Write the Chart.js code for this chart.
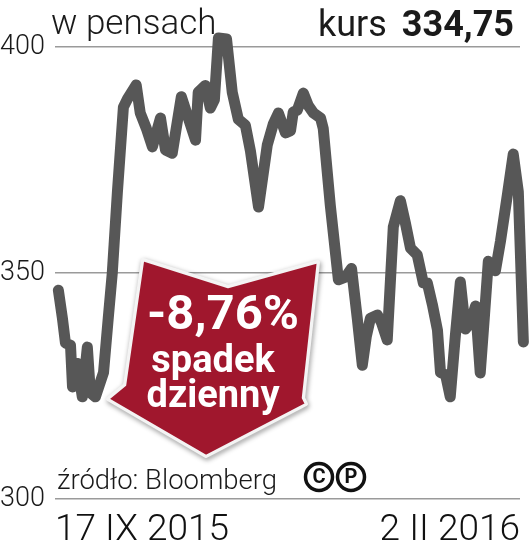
<!DOCTYPE html>
<html>
<head>
<meta charset="utf-8">
<script src="https://cdn.jsdelivr.net/npm/chart.js@4/dist/chart.umd.min.js"></script>
<style>
  html, body { margin: 0; padding: 0; background: #fff; }
  canvas { display: block; }
</style>
</head>
<body>
<canvas id="c" width="529" height="548"></canvas>
<script>
// Calendar-day offsets from 17 IX 2015 (day 0) to 2 II 2016 (day 138)
const days = [
  0, 1.2, 2.1, 3.6, 4.2, 5.6, 7.1, 8.6, 9.5, 11.0,
  13.4, 14.8, 16.0, 17.5, 19.3, 20.5, 23.1, 24.3, 26.1, 27.9,
  30.3, 31.8, 33.8, 36.5, 40.7, 41.5, 43.6, 45.1, 46.3, 47.5,
  49.9, 51.6, 53.4, 55.5, 57.0, 59.4, 62.0, 63.8, 65.3, 67.4,
  68.9, 69.7, 70.9, 72.7, 74.2, 75.7, 77.8, 78.6, 80.7, 83.1,
  85.2, 87.0, 88.7, 90.2, 91.4, 92.6, 94.7, 95.9, 97.6, 99.4,
  101.5, 103.0, 104.5, 106.5, 108.3, 109.5, 111.0, 112.5, 113.4, 114.9,
  116.3, 117.8, 119.3, 120.8, 122.3, 123.8, 125.2, 126.4, 127.6, 129.7,
  131.2, 133.2, 135.0, 136.5, 138.0
];
// Price in pence
const prices = [
  346.2, 340, 334.5, 334, 324.8, 330, 322.6, 333.6, 323.5, 322.6,
  328, 340, 350, 367.7, 386.7, 388.5, 391.6, 385.4, 382, 377.9,
  384.3, 377.2, 376.5, 389, 379.4, 390, 391.5, 386.5, 388.3, 402,
  401.8, 390, 384, 382.7, 377, 364.6, 378.3, 383, 385.4, 381,
  381.5, 385.6, 386, 389.8, 387, 385.4, 384.3, 382, 365, 348.5,
  349.1, 351, 340, 329.6, 336, 340, 340.7, 339, 335.2, 360.2,
  366, 361, 355.5, 354, 347.8, 347.8, 343, 337.4, 328, 327.5,
  322.6, 336, 348, 337.6, 339, 342.7, 327.9, 340, 352.6, 350.5,
  357, 367, 376.3, 368, 334.75
];
const yTicks = [300, 350, 400];
const xTickLabels = ['17 IX 2015', '2 II 2016'];
const unitLabel = 'w pensach';
const priceLabel = 'kurs';
const lastPrice = '334,75';
const sourceLabel = 'źródło: Bloomberg';
const calloutLines = ['-8,76%', 'spadek', 'dzienny'];

const LIGHT = '300 ';
const FAM = 'Roboto, "Liberation Sans", sans-serif';

const decor = {
  id: 'decor',
  beforeDatasetsDraw(chart) {
    const ctx = chart.ctx;
    ctx.save();
    ctx.fillStyle = '#1a1a1a';
    ctx.textBaseline = 'alphabetic';
    ctx.textAlign = 'left';
    ctx.font = LIGHT + '35px ' + FAM;
    ctx.fillText(unitLabel, 51, 34);
    // source
    ctx.font = LIGHT + '27.5px ' + FAM;
    ctx.fillText(sourceLabel, 57, 489);
    // (C)(P) icons
    const icons = ['C', 'P'];
    icons.forEach((t, i) => {
      const cx = 319 + i * 32, cy = 477, r = 13.5;
      ctx.beginPath();
      ctx.lineWidth = 3.5;
      ctx.strokeStyle = '#111';
      ctx.arc(cx, cy, r, 0, Math.PI * 2);
      ctx.stroke();
      ctx.font = 'bold 20px ' + FAM;
      ctx.textAlign = 'center';
      ctx.textBaseline = 'middle';
      ctx.fillStyle = '#111';
      ctx.fillText(t, cx, cy + 1);
    });
    ctx.restore();
  },
  afterDatasetsDraw(chart) {
    const ctx = chart.ctx;
    ctx.save();
    // header right
    ctx.fillStyle = '#1a1a1a';
    ctx.textBaseline = 'alphabetic';
    ctx.textAlign = 'right';
    ctx.font = 'bold 36px ' + FAM;
    const w = ctx.measureText(lastPrice).width;
    ctx.fillText(lastPrice, 514, 36);
    ctx.font = '400 36px ' + FAM;
    ctx.fillText(priceLabel, 514 - w - 15, 36);

    // callout arrow
    const pts = [[143, 260], [228, 287], [318, 262], [303, 398], [306, 404], [206, 456], [108, 399], [125, 385]];
    ctx.beginPath();
    pts.forEach((p, i) => i ? ctx.lineTo(p[0], p[1]) : ctx.moveTo(p[0], p[1]));
    ctx.closePath();
    ctx.shadowColor = 'rgba(0,0,0,0.45)';
    ctx.shadowBlur = 5;
    ctx.shadowOffsetX = 1;
    ctx.shadowOffsetY = 2;
    ctx.fillStyle = '#a0172d';
    ctx.lineJoin = 'round';
    ctx.lineWidth = 4;
    ctx.strokeStyle = '#f4f4f4';
    ctx.stroke();
    ctx.shadowColor = 'transparent';
    ctx.fill();
    ctx.lineWidth = 2.5;
    ctx.strokeStyle = '#f4f4f4';
    ctx.stroke();

    ctx.fillStyle = '#ffffff';
    ctx.textAlign = 'center';
    ctx.textBaseline = 'alphabetic';
    ctx.font = 'bold 49px ' + FAM;
    ctx.fillText(calloutLines[0], 223, 329);
    ctx.font = 'bold 38px ' + FAM;
    ctx.fillText(calloutLines[1], 213, 372);
    ctx.fillText(calloutLines[2], 213, 407);
    ctx.restore();
  }
};

new Chart(document.getElementById('c'), {
  type: 'line',
  data: {
    datasets: [{
      data: days.map((d, i) => ({ x: d, y: prices[i] })),
      borderColor: '#575757',
      borderWidth: 11,
      pointRadius: 0,
      tension: 0,
      borderJoinStyle: 'round',
      borderCapStyle: 'round',
      clip: false
    }]
  },
  options: {
    responsive: false,
    devicePixelRatio: 1,
    animation: false,
    layout: { padding: { top: 47, right: 9, left: 0, bottom: 0 } },
    plugins: { legend: { display: false }, tooltip: { enabled: false } },
    scales: {
      x: {
        type: 'linear',
        min: -1,
        max: 137,
        afterBuildTicks(scale) { scale.ticks = [{ value: -1 }, { value: 137 }]; },
        afterFit(scale) { scale.height = 49; },
        grid: { display: false },
        border: { display: false },
        ticks: {
          align: 'inner',
          maxRotation: 0,
          autoSkip: false,
          padding: 2,
          color: '#111',
          font: { family: FAM, size: 37, weight: '300' },
          callback(v, i) { return xTickLabels[i]; }
        }
      },
      y: {
        min: 300,
        max: 400,
        afterBuildTicks(scale) { scale.ticks = yTicks.map(v => ({ value: v })); },
        afterFit(scale) { scale.width = 55; },
        grid: { color: '#9a9a9a', lineWidth: 1.5, drawTicks: false },
        border: { display: false },
        ticks: {
          crossAlign: 'far',
          padding: 0,
          color: '#1a1a1a',
          font: { family: FAM, size: 27, weight: '300' }
        }
      }
    }
  },
  plugins: [decor]
});
</script>
</body>
</html>
